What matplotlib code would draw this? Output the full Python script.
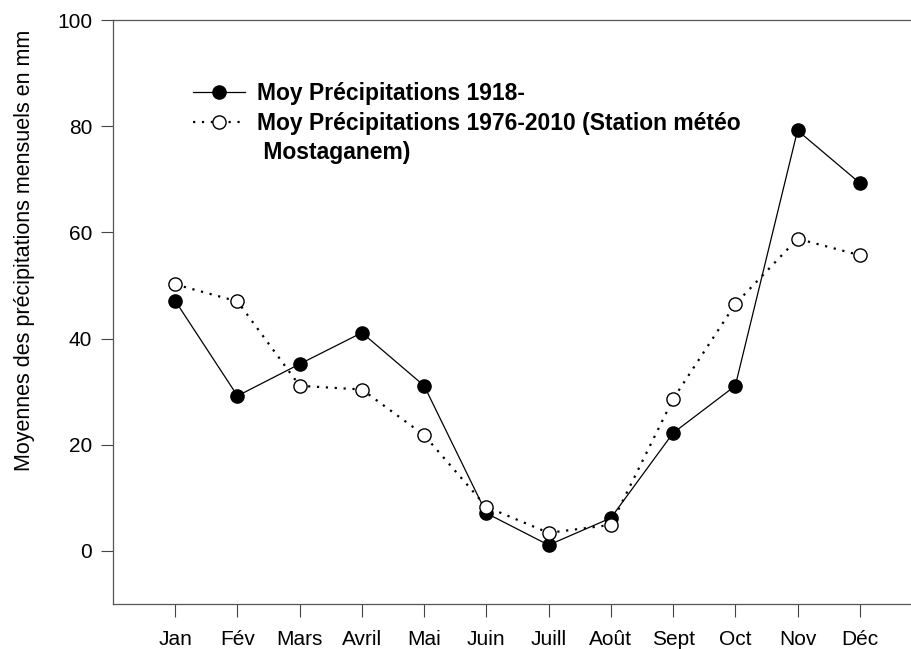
import numpy as np
import matplotlib
matplotlib.use('Agg')
import matplotlib.pyplot as plt
from matplotlib.lines import Line2D

plt.rcParams['font.family'] = ['Liberation Sans', 'DejaVu Sans']

months = ['Jan', 'Fév', 'Mars', 'Avril', 'Mai', 'Juin', 'Juill', 'Août', 'Sept', 'Oct', 'Nov', 'Déc']
precip_1918 = [47.1, 29.2, 35.2, 41.1, 31.1, 7.1, 1.1, 6.2, 22.2, 31.1, 79.2, 69.3]
precip_1976 = [50.2, 47.0, 31.1, 30.4, 21.8, 8.3, 3.4, 4.9, 28.6, 46.5, 58.8, 55.7]
yticks = [0, 20, 40, 60, 80, 100]

label_1918 = 'Moy Précipitations 1918-'
label_1976 = 'Moy Précipitations 1976-2010 (Station météo'
label_1976_cont = ' Mostaganem)'

fig = plt.figure(figsize=(9.11, 6.49), dpi=100)
ax = fig.add_axes([113 / 911, 45 / 649, 809 / 911, 584 / 649])

x = np.arange(1, len(months) + 1)
l1, = ax.plot(x, precip_1918, '-', color='black', lw=0.9, marker='o', ms=9.5,
              mfc='black', mec='black', zorder=3)
l2, = ax.plot(x, precip_1976, color='black', lw=1.6, linestyle=(0, (1, 3)), marker='o', ms=9.5,
              mfc='white', mec='black', mew=1.0, zorder=4)

ax.set_xlim(0, 13)
ax.set_ylim(-10, 100)
ax.set_xticks(x)
ax.set_xticklabels(months, fontsize=15)
ax.set_yticks(yticks)
ax.set_yticklabels([str(v) for v in yticks], fontsize=15)
ax.tick_params(axis='x', direction='out', length=9, width=0.8, pad=10, color='#444444')
ax.tick_params(axis='y', direction='out', length=9, width=0.8, pad=6, color='#444444')
for sp in ax.spines.values():
    sp.set_linewidth(0.9)
    sp.set_color('#555555')

ax.set_ylabel('Moyennes des précipitations mensuels en mm', fontsize=15.5)
ax.yaxis.set_label_coords(-0.096, 0.605)

blank = Line2D([], [], linestyle='none')
leg = ax.legend([l1, l2, blank], [label_1918, label_1976, label_1976_cont],
                loc='upper left', bbox_to_anchor=(0.099, 0.893), frameon=False,
                prop={'weight': 'bold', 'size': 16.5}, handlelength=2.26, handletextpad=0.55,
                labelspacing=0.28, borderaxespad=0, borderpad=0)

fig.savefig('out.png', dpi=100)
